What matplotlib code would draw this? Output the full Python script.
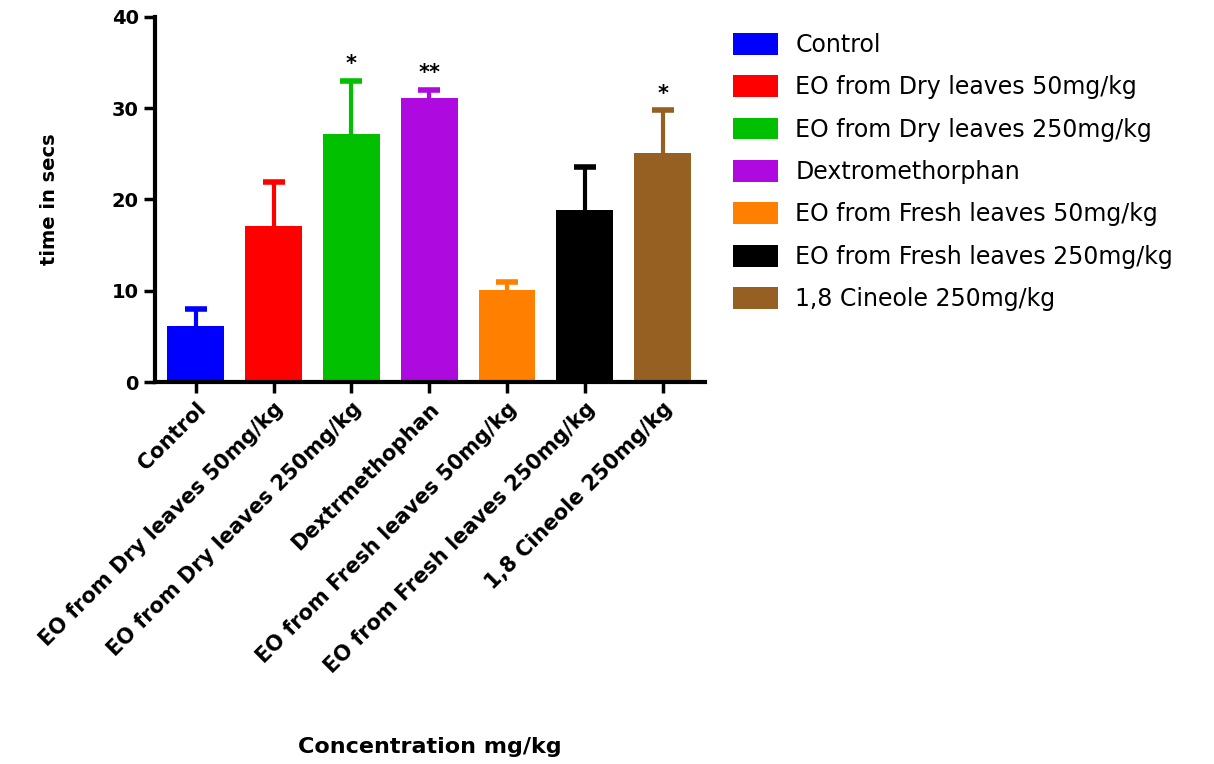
import numpy as np
import matplotlib
matplotlib.use('Agg')
import matplotlib.pyplot as plt

plt.rcParams['font.family'] = ['DejaVu Sans']

# data
groups = ['Control', 'EO from Dry leaves 50mg/kg', 'EO from Dry leaves 250mg/kg',
          'Dextrmethophan', 'EO from Fresh leaves 50mg/kg',
          'EO from Fresh leaves 250mg/kg', '1,8 Cineole 250mg/kg']
legend_labels = ['Control', 'EO from Dry leaves 50mg/kg', 'EO from Dry leaves 250mg/kg',
                 'Dextromethorphan', 'EO from Fresh leaves 50mg/kg',
                 'EO from Fresh leaves 250mg/kg', '1,8 Cineole 250mg/kg']
means = [6.1, 17.1, 27.2, 31.1, 10.1, 18.8, 25.1]
sem = [1.9, 4.8, 5.8, 0.9, 0.8, 4.8, 4.7]
stars = ['', '', '*', '**', '', '', '*']
colors = ['#0000FF', '#FF0000', '#00C000', '#AE0AE0', '#FF8000', '#000000', '#956021']

fig = plt.figure(figsize=(12.14, 7.64), dpi=100)
ax = fig.add_axes([0.128, 0.5, 0.453, 0.478])

x = np.arange(len(groups))
bars = ax.bar(x, means, width=0.73, color=colors, zorder=2)
for i in range(len(groups)):
    eb = ax.errorbar(x[i], means[i], yerr=[[0], [sem[i]]], fmt='none', ecolor=colors[i],
                     elinewidth=3, capsize=8, capthick=4, zorder=1)
    # only the upper cap is shown
    eb[1][0].set_visible(False)
    if stars[i]:
        ax.text(x[i], means[i] + sem[i] + 0.7, stars[i], ha='center', va='bottom',
                fontsize=15, fontweight='bold')

ax.set_xlim(-0.52, 6.55)
ax.set_ylim(0, 40)
ax.set_yticks([0, 10, 20, 30, 40])
ax.set_xticks(x)
ax.set_xticklabels(groups, rotation=45, ha='right', rotation_mode='anchor',
                   fontsize=15, fontweight='bold')
for lab in ax.get_yticklabels():
    lab.set_fontweight('bold')
    lab.set_fontsize(14)
for side in ['top', 'right']:
    ax.spines[side].set_visible(False)
for side in ['left', 'bottom']:
    ax.spines[side].set_linewidth(3)
ax.tick_params(axis='both', width=2.5, length=8, direction='out', pad=4)

ax.set_ylabel('time in secs', fontsize=14, fontweight='bold', labelpad=38)
fig.text(0.354, 0.015, 'Concentration mg/kg', ha='center', fontsize=16, fontweight='bold')

fig.legend(bars, legend_labels, loc='upper left', bbox_to_anchor=(0.586, 0.985),
           frameon=False, fontsize=17, handlelength=1.9, handleheight=1.05,
           labelspacing=0.78, handletextpad=0.75)

plt.savefig('out.png', dpi=100)
